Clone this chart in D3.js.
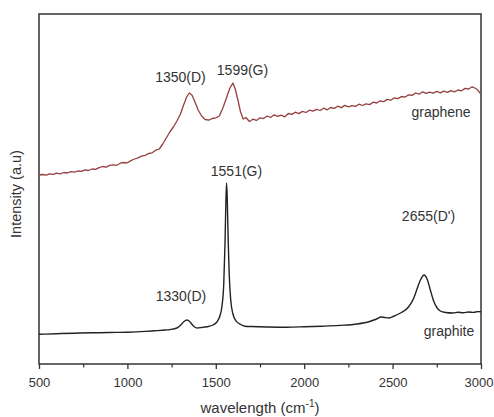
<!DOCTYPE html>
<html>
<head>
<meta charset="utf-8">
<script src="https://cdn.jsdelivr.net/npm/d3@7"></script>
<style>
  html, body { margin: 0; padding: 0; background: #fff; }
  svg { display: block; font-family: "Liberation Sans", Arial, sans-serif; }
</style>
</head>
<body>
<svg id="chart" width="494" height="417"></svg>
<script>
// x ticks (cm-1)
const xTicks      = [500, 1000, 1500, 2000, 2500, 3000];
const xMinorTicks = [750, 1250, 1750, 2250, 2750];

// graphene spectrum: [wavenumber, intensity]
const graphene = [
  [500,189],[520,189.5],[540,188.8],[560,190.2],[580,189.6],[600,190.8],[620,190.1],[640,191.5],
  [660,191],[680,192.4],[700,191.8],[720,193],[740,192.6],[760,194.2],[780,193.5],[800,195],
  [820,194.6],[840,196.3],[860,197.5],[880,196.8],[900,198.6],[920,199.2],[940,198.7],[960,200.8],
  [980,201.5],[1000,201.2],[1020,203.4],[1040,205],[1060,206.2],[1080,207.8],[1100,208.6],
  [1120,210.5],[1140,211.2],[1160,213.8],[1180,215],[1200,220],[1220,226],[1240,232],[1260,237],
  [1280,243],[1300,250],[1320,260],[1335,267],[1350,271],[1365,269],[1380,263],[1400,254],
  [1420,248],[1440,244.5],[1460,243.8],[1480,245.5],[1500,246.2],[1520,248],[1540,256],[1560,266],
  [1580,276],[1597,281],[1610,275],[1625,264],[1640,252],[1655,245],[1670,246.5],[1690,242.5],
  [1710,244.8],[1730,243.6],[1750,246.2],[1770,245.4],[1790,248],[1810,246.5],[1830,249.2],
  [1850,247.6],[1870,248.8],[1890,247.2],[1910,250.5],[1930,249.6],[1950,251.8],[1970,250.4],
  [1990,252.6],[2010,251.5],[2030,253.8],[2050,252.9],[2070,254.6],[2090,253.5],[2110,255.8],
  [2130,254.2],[2150,256.5],[2170,255.6],[2190,257.8],[2210,256.4],[2230,258.6],[2250,257.2],
  [2270,258.4],[2290,257.6],[2310,259.8],[2330,258.5],[2350,260.2],[2370,259.4],[2390,261.8],
  [2410,261],[2430,263.2],[2450,262.4],[2470,264.6],[2490,263.8],[2510,266.2],[2530,265.4],
  [2550,267.5],[2570,266.8],[2590,269.2],[2610,268.6],[2630,271],[2650,269.8],[2670,272.2],
  [2690,270.6],[2710,271.8],[2730,270.8],[2750,272.6],[2770,271.2],[2790,272.8],[2810,271.6],
  [2830,273.4],[2850,272.2],[2870,274],[2890,273.2],[2910,275.6],[2930,275],[2950,277.2],
  [2965,276],[2980,274.2],[2990,272],[3000,270]
];

// graphite spectrum: [wavenumber, intensity]
const graphite = [
  [500,29.7],[600,30.3],[700,30.8],[800,31.2],[900,31.5],[1000,31.8],[1100,32.6],[1150,33.2],
  [1200,33.8],[1240,34.4],[1280,36],[1305,39.5],[1320,42.5],[1337,44],[1352,42.5],[1366,39.5],
  [1380,37],[1395,36],[1420,36.5],[1450,37.3],[1484,39],[1506,42],[1523,48],[1535,58],[1545,80],
  [1552,120],[1557,162],[1561,181],[1565,164],[1570,124],[1576,89],[1585,63],[1597,50],[1615,43],
  [1640,39.5],[1665,37.8],[1700,37.5],[1750,37.2],[1800,37],[1900,36.8],[2000,37.2],[2100,37.8],
  [2200,38.6],[2300,40],[2370,42.5],[2410,45],[2435,47],[2455,46.5],[2480,46],[2510,48],
  [2550,51.5],[2590,57],[2620,66],[2640,76],[2660,85],[2678,89],[2695,85],[2712,75],[2730,64],
  [2750,56.5],[2770,53],[2800,51.5],[2840,51],[2870,51.8],[2900,51.2],[2930,52],[2960,51.6],
  [2980,52.4],[3000,52.2]
];

// annotations: [label, wavenumber at text centre, intensity at text baseline]
const annotations = [
  ["1350(D)", 1300, 282],
  ["1599(G)", 1651, 289],
  ["1551(G)", 1617, 188],
  ["1330(D)", 1303, 63],
  ["2655(D')", 2703, 143],
  ["graphene", 2774, 247],
  ["graphite", 2819, 28]
];

const svg = d3.select("#chart");
const margin = { top: 14, right: 13, bottom: 53, left: 39 };
const W = 494, H = 417;

const x = d3.scaleLinear().domain([500, 3000]).range([margin.left, W - margin.right]);
const y = d3.scaleLinear().domain([0, 350]).range([H - margin.bottom, margin.top]);

svg.append("defs").append("clipPath").attr("id", "plot")
  .append("rect")
    .attr("x", x(500)).attr("y", y(350))
    .attr("width", x(3000) - x(500)).attr("height", y(0) - y(350));

// minor ticks
svg.append("g")
  .attr("transform", `translate(0,${y(0)})`)
  .call(d3.axisBottom(x).tickValues(xMinorTicks).tickSize(3.5).tickFormat(""))
  .call(g => g.select(".domain").remove())
  .call(g => g.selectAll("line").attr("stroke", "#333").attr("stroke-width", 1.2));

// x axis
svg.append("g")
  .attr("transform", `translate(0,${y(0)})`)
  .call(d3.axisBottom(x).tickValues(xTicks).tickFormat(d3.format("d"))
    .tickSize(5).tickPadding(9).tickSizeOuter(0))
  .call(g => g.select(".domain").remove())
  .call(g => g.selectAll("line").attr("stroke", "#333").attr("stroke-width", 1.3))
  .call(g => g.selectAll("text")
    .attr("fill", "#333")
    .style("font-size", "13px")
    .style("font-family", "'Liberation Sans', Arial, sans-serif"))
  .call(g => g.selectAll(".tick text").filter(d => d === 3000)
    .attr("text-anchor", "end").attr("x", 12));

// frame
svg.append("rect")
  .attr("x", x(500)).attr("y", y(350))
  .attr("width", x(3000) - x(500)).attr("height", y(0) - y(350))
  .attr("fill", "none").attr("stroke", "#333").attr("stroke-width", 1.5);

const line = d3.line().x(d => x(d[0])).y(d => y(d[1]));

svg.append("path")
  .datum(graphene)
  .attr("clip-path", "url(#plot)")
  .attr("fill", "none")
  .attr("stroke", "#93403f")
  .attr("stroke-width", 1.3)
  .attr("stroke-linejoin", "round")
  .attr("d", line);

svg.append("path")
  .datum(graphite)
  .attr("clip-path", "url(#plot)")
  .attr("fill", "none")
  .attr("stroke", "#222")
  .attr("stroke-width", 1.4)
  .attr("d", line.curve(d3.curveMonotoneX));

// peak labels
svg.append("g")
  .selectAll("text")
  .data(annotations)
  .join("text")
    .attr("x", d => x(d[1]))
    .attr("y", d => y(d[2]))
    .attr("text-anchor", "middle")
    .attr("fill", "#333")
    .style("font-size", "14px")
    .text(d => d[0]);

// axis titles
const xTitle = svg.append("text")
  .attr("x", 260)
  .attr("y", 413)
  .attr("text-anchor", "middle")
  .attr("fill", "#333")
  .style("font-size", "15px");
xTitle.append("tspan").text("wavelength (cm");
xTitle.append("tspan").attr("dy", -6).style("font-size", "10px").text("-1");
xTitle.append("tspan").attr("dy", 6).text(")");

svg.append("text")
  .attr("transform", "translate(21,194) rotate(-90)")
  .attr("text-anchor", "middle")
  .attr("fill", "#333")
  .style("font-size", "14.5px")
  .text("Intensity (a.u)");
</script>
</body>
</html>
